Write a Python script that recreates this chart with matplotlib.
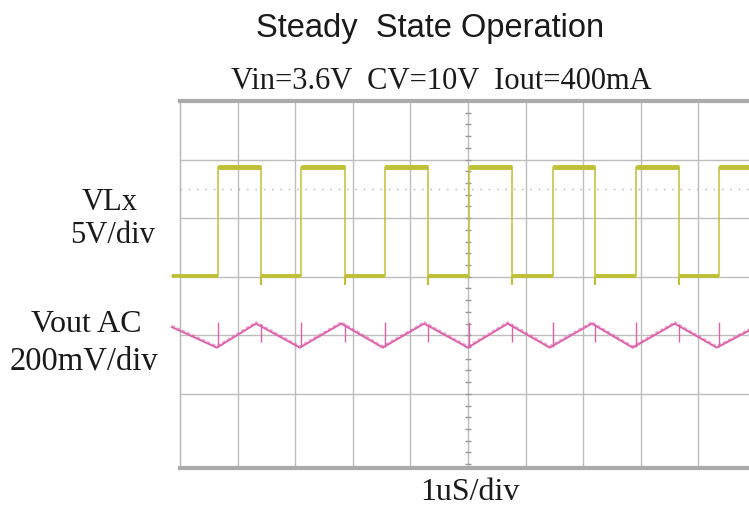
import matplotlib
matplotlib.use("Agg")
import matplotlib.pyplot as plt
import numpy as np

# ---- data (in scope divisions) ----
rise_edges = [0.66, 2.10, 3.56, 5.02, 6.48, 7.92, 9.36]
fall_edges = [1.41, 2.86, 4.31, 5.76, 7.20, 8.66]
vlx_high = 3.88
vlx_low = 2.02
vlx_undershoot = 1.86

ripple_x = [-0.14, 0.64, 1.32, 2.08, 2.80, 3.52, 4.24, 5.00, 5.69, 6.42, 7.15, 7.86, 8.59, 9.32, 9.88]
ripple_y = [1.14, 0.79, 1.20, 0.79, 1.20, 0.79, 1.20, 0.79, 1.20, 0.79, 1.20, 0.79, 1.20, 0.79, 1.08]
ripple_spike_up = 1.23
ripple_spike_down = 0.89

x_start, x_end = -0.14, 9.88

title = "Steady  State Operation"
subtitle = "Vin=3.6V  CV=10V  Iout=400mA"
ch1_label = ["VLx", "5V/div"]
ch2_label = ["Vout AC", "200mV/div"]
time_label = "1uS/div"

W, H = 749, 507
fig = plt.figure(figsize=(W / 100, H / 100), dpi=100)
fig.patch.set_facecolor("white")
ax = fig.add_axes([180 / W, 1 - 468 / H, 1 - 180 / W, (468 - 101) / H])
ax.set_xlim(0, 9.88)
ax.set_ylim(-1.265, 5.0)

# grid
ax.set_xticks(range(1, 10))
ax.set_yticks(range(0, 5))
ax.grid(True, color="#bdbdbd", lw=1.0)
ax.tick_params(length=0, labelbottom=False, labelleft=False)
for s in ["top", "bottom"]:
    ax.spines[s].set_color("#ababab")
    ax.spines[s].set_linewidth(3)
ax.spines["left"].set_color("#b5b5b5")
ax.spines["left"].set_linewidth(1)
ax.spines["right"].set_visible(False)

# center axis minor ticks & dotted line
ty = np.arange(-1.2, 5.0, 0.2)
ax.plot(np.full_like(ty, 5.0), ty, ls="none", marker="_", ms=5, color="#9a9a9a", mew=1)
ax.axhline(3.5, color="#b0b0b0", lw=1, ls=(0, (1, 5)))

# VLx square wave
xs, ys = [x_start], [vlx_low]
for i, r in enumerate(rise_edges):
    xs += [r, r]
    ys += [vlx_low, vlx_high]
    if i < len(fall_edges):
        f = fall_edges[i]
        xs += [f, f]
        ys += [vlx_high, vlx_low]
xs.append(x_end)
ys.append(vlx_high)
yel = "#c0c036"
ax.plot(xs, ys, color=yel, lw=1.1, clip_on=False, zorder=3)
# thicker noisy bands
highs_start = rise_edges
highs_end = fall_edges + [x_end]
ax.hlines([vlx_high] * len(highs_start), highs_start, highs_end, color=yel, lw=3.5, zorder=3)
lows_start = [x_start] + fall_edges
lows_end = rise_edges
ax.hlines([vlx_low] * len(lows_start), lows_start, lows_end, color=yel, lw=2.8, zorder=3, clip_on=False)
ax.vlines(fall_edges, vlx_undershoot, vlx_low, color=yel, lw=1.5, zorder=3)

# Vout AC ripple
pink = "#de62aa"
ax.plot(ripple_x, ripple_y, color=pink, lw=1.4, clip_on=False, zorder=4)
ax.plot(ripple_x, [y + 0.03 for y in ripple_y], color=pink, lw=0.8, ls=(0, (3, 2)), alpha=0.7, clip_on=False, zorder=4)
ax.vlines(rise_edges, [0.80] * len(rise_edges), ripple_spike_up, color=pink, lw=1.0, zorder=4)
ax.vlines(fall_edges, ripple_spike_down, [1.19] * len(fall_edges), color=pink, lw=1.0, zorder=4)

# texts
def ftext(x, y, s, size, family):
    fig.text(x / W, 1 - y / H, s, ha="center", va="center", fontsize=size,
             family=family, color="#1a1a1a")

ftext(430, 28, title, 23.5, "Liberation Sans")
ftext(441, 82, subtitle, 22, "Liberation Serif")
ftext(110, 202, ch1_label[0], 22, "Liberation Serif")
ftext(113, 236, ch1_label[1], 22, "Liberation Serif")
ftext(86, 325, ch2_label[0], 23, "Liberation Serif")
ftext(84, 361, ch2_label[1], 23.5, "Liberation Serif")
ftext(470, 492, time_label, 23, "Liberation Serif")

fig.savefig("out.png", dpi=100, facecolor="white")
